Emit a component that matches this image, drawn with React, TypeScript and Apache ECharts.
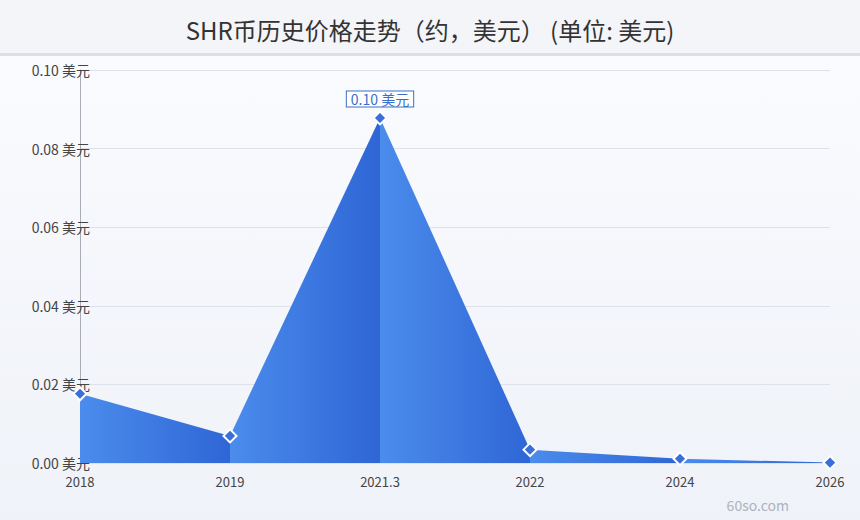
import React, { useEffect, useRef } from "react";
import * as echarts from "echarts";

const categories = ["2018", "2019", "2021.3", "2022", "2024", "2026"];
const prices = [0.0176, 0.0069, 0.0878, 0.0034, 0.0011, 0.0001];
const peakLabelText = "0.10 美元";
const titleText = "SHR币历史价格走势（约，美元） (单位: 美元)";
const watermarkText = "60so.com";

const FONT = "'Noto Sans CJK SC', 'Noto Sans', sans-serif";

export default function App() {
  const ref = useRef<HTMLDivElement>(null);
  useEffect(() => {
    if (!ref.current) return;
    const chart = echarts.init(ref.current, undefined, { renderer: "svg" });
    const peakIdx = prices.indexOf(Math.max(...prices));

    const segmentSeries = prices.slice(0, -1).map((_, i) => ({
      type: "line",
      data: prices.map((v, j) => (j === i || j === i + 1 ? v : "-")),
      symbol: "none",
      lineStyle: { width: 0 },
      areaStyle: {
        opacity: 1,
        color: new echarts.graphic.LinearGradient(0, 0, 1, 0, [
          { offset: 0, color: "#4b8cec" },
          { offset: 1, color: "#2f66d6" },
        ]),
      },
      silent: true,
      z: 2,
    }));

    const markerSeries = {
      type: "line",
      data: prices.map((v, j) =>
        j === peakIdx
          ? {
              value: v,
              label: {
                show: true,
                position: "top",
                distance: 4,
                formatter: () => peakLabelText,
                color: "#3a6fc9",
                fontSize: 14,
                fontFamily: FONT,
                backgroundColor: "#ffffff",
                borderColor: "#3a6fc9",
                borderWidth: 1,
                padding: [1, 4, 0, 4],
              },
            }
          : v
      ),
      symbol: "diamond",
      symbolSize: 13,
      showAllSymbol: true,
      lineStyle: { width: 0, opacity: 0 },
      itemStyle: { color: "#3a6fd8", borderColor: "#ffffff", borderWidth: 2 },
      z: 5,
    };

    chart.setOption({
      animation: false,
      textStyle: { fontFamily: FONT },
      title: {
        text: titleText,
        left: "center",
        top: 12,
        textStyle: { fontSize: 24, fontWeight: "normal", color: "#333", fontFamily: FONT },
      },
      graphic: [
        {
          type: "rect",
          z: -10,
          shape: { x: 0, y: 0, width: 860, height: 520 },
          style: {
            fill: new echarts.graphic.LinearGradient(0, 0, 0, 1, [
              { offset: 0, color: "#fbfcff" },
              { offset: 1, color: "#eff2f8" },
            ]),
          },
          silent: true,
        },
        {
          type: "rect",
          z: -9,
          shape: { x: 0, y: 0, width: 860, height: 53 },
          style: { fill: "#f4f5f9" },
          silent: true,
        },
        {
          type: "rect",
          z: -9,
          shape: { x: 0, y: 53, width: 860, height: 3 },
          style: { fill: "#dcdfe7" },
          silent: true,
        },
        {
          type: "text",
          right: 71,
          bottom: 8,
          style: { text: watermarkText, fill: "#adb2bd", fontSize: 14, fontFamily: FONT },
          silent: true,
        },
      ],
      grid: { left: 80, right: 30, top: 70, bottom: 57 },
      xAxis: {
        type: "category",
        data: categories,
        boundaryGap: false,
        axisLine: { show: false },
        axisTick: { show: false },
        axisLabel: { color: "#444", fontSize: 13, margin: 12, fontFamily: FONT },
        splitLine: { show: false },
      },
      yAxis: {
        type: "value",
        min: 0,
        max: 0.1,
        interval: 0.02,
        axisLine: { show: true, lineStyle: { color: "#a9adb5", width: 1 } },
        axisTick: { show: false },
        axisLabel: {
          color: "#444",
          fontSize: 14,
          margin: -10,
          fontFamily: FONT,
          formatter: (v: number) => v.toFixed(2) + " 美元",
        },
        splitLine: { lineStyle: { color: "#dde1e9", width: 1 } },
      },
      series: [...segmentSeries, markerSeries],
    });
    return () => chart.dispose();
  }, []);
  return (
    <div
      ref={ref}
      style={{ position: "absolute", left: 0, top: 0, width: 860, height: 520 }}
    />
  );
}
